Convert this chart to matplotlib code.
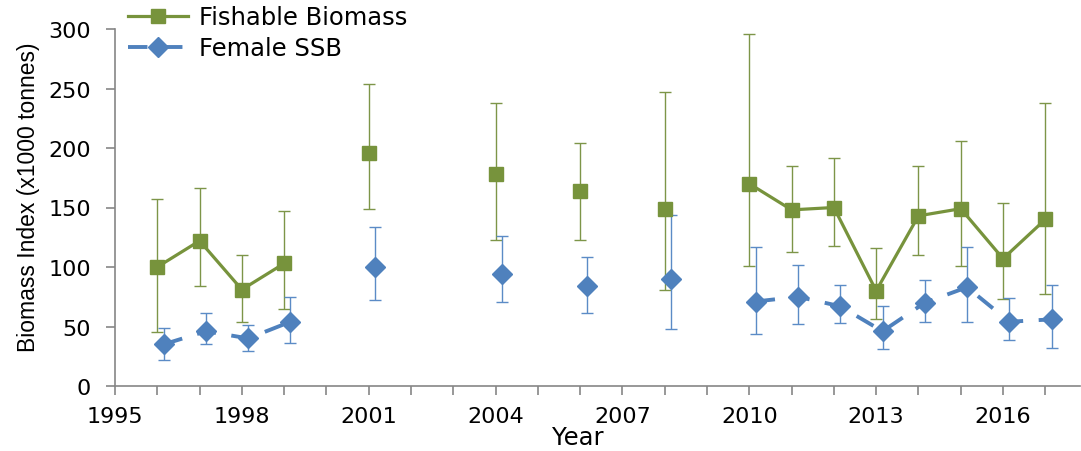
import numpy as np
import matplotlib.pyplot as plt
from matplotlib.ticker import MultipleLocator

plt.rcParams['font.family'] = ['DejaVu Sans']

# survey years (None = no survey that year)
years = list(range(1996, 2018))
fishable = [100, 122, 81, 103, None, 196, None, None, 178, None, 164, None, 149, None,
            170, 148, 150, 80, 143, 149, 107, 140]
fishable_hi = [157, 166, 110, 147, None, 254, None, None, 238, None, 204, None, 247, None,
               296, 185, 192, 116, 185, 206, 154, 238]
fishable_lo = [45, 84, 54, 65, None, 149, None, None, 123, None, 123, None, 81, None,
               101, 113, 118, 56, 110, 101, 73, 77]
ssb = [35, 46, 40, 54, None, 100, None, None, 94, None, 84, None, 90, None,
       71, 75, 67, 46, 70, 83, 54, 56]
ssb_hi = [49, 61, 51, 75, None, 134, None, None, 126, None, 108, None, 144, None,
          117, 102, 85, 67, 89, 117, 74, 85]
ssb_lo = [22, 35, 29, 36, None, 72, None, None, 71, None, 61, None, 48, None,
          44, 52, 53, 31, 54, 54, 39, 32]


def arr(v):
    return np.array([np.nan if x is None else x for x in v], dtype=float)


def main():
    x = np.array(years, dtype=float)
    fb, fb_hi, fb_lo = arr(fishable), arr(fishable_hi), arr(fishable_lo)
    sb, sb_hi, sb_lo = arr(ssb), arr(ssb_hi), arr(ssb_lo)
    ok_f = ~np.isnan(fb)
    ok_s = ~np.isnan(sb)
    xs = x + 0.15  # SSB points nudged right so bars don't overlap

    green = '#77933C'
    blue = '#4F81BD'

    fig = plt.figure(figsize=(10.81, 4.52), dpi=100)
    ax = fig.add_axes([115 / 1081, 1 - 387 / 452, 965 / 1081, 357 / 452])

    ax.errorbar(x[ok_f], fb[ok_f], yerr=[fb[ok_f] - fb_lo[ok_f], fb_hi[ok_f] - fb[ok_f]],
                fmt='none', ecolor='#7d9548', elinewidth=1.0, capsize=4.5, capthick=1.0, zorder=2)
    ax.errorbar(xs[ok_s], sb[ok_s], yerr=[sb[ok_s] - sb_lo[ok_s], sb_hi[ok_s] - sb[ok_s]],
                fmt='none', ecolor='#5b8bc6', elinewidth=1.0, capsize=4.5, capthick=1.0, zorder=2)

    ax.plot(x, fb, color=green, lw=2.3, marker='s', ms=10, mec=green, mfc=green,
            label='Fishable Biomass', zorder=3)
    ax.plot(xs, sb, color=blue, lw=2.8, ls=(0, (5, 4)), marker='D', ms=10.5,
            mec=blue, mfc=blue, label='Female SSB', zorder=3)

    ax.set_xlim(1995, 2017.82)
    ax.set_ylim(0, 300)
    ax.xaxis.set_major_locator(MultipleLocator(3))
    ax.xaxis.set_minor_locator(MultipleLocator(1))
    ax.yaxis.set_major_locator(MultipleLocator(50))
    for s in ['top', 'right']:
        ax.spines[s].set_visible(False)
    for s in ['left', 'bottom']:
        ax.spines[s].set_color('#868686')
        ax.spines[s].set_linewidth(1.2)
    ax.tick_params(axis='both', which='both', direction='out', length=6.5,
                   width=1.2, color='#868686', labelsize=16, labelcolor='black')
    ax.tick_params(axis='x', pad=8)
    ax.tick_params(axis='y', pad=11)

    ax.set_xlabel('Year', fontsize=17.5, labelpad=-1, x=0.48)
    ax.set_ylabel('Biomass Index (x1000 tonnes)', fontsize=16.5, labelpad=6,
                  y=0.532, family='Liberation Sans')

    fig.legend(loc='upper left', bbox_to_anchor=(118 / 1081, 1.008), frameon=False,
               fontsize=17.5, handlelength=2.5, handletextpad=0.45, labelspacing=0.3,
               borderaxespad=0)

    fig.savefig('out.png', dpi=100)


if __name__ == "__main__":
    main()
